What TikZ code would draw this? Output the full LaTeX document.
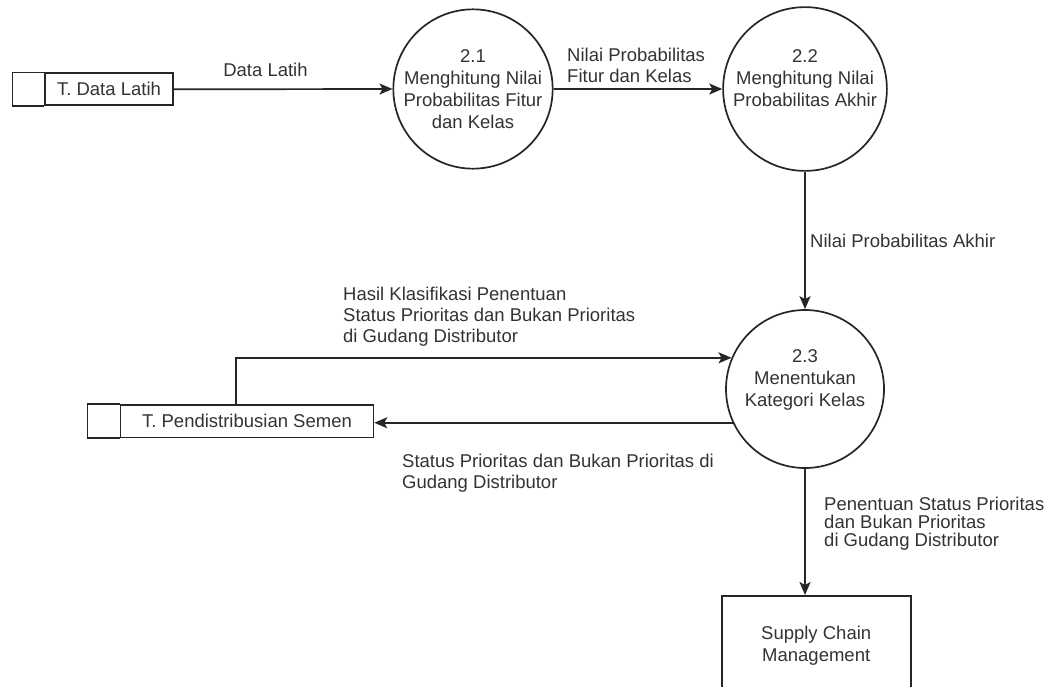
\documentclass[tikz,border=0pt]{standalone}
\usepackage{fontspec}
\setmainfont{Liberation Sans}
\usetikzlibrary{arrows.meta}
\begin{document}
\begin{tikzpicture}[x=1pt,y=-1pt,
  every node/.style={text=black!80, font=\fontsize{18.5}{21.8}\selectfont, inner sep=0pt},
  ln/.style={draw=black!85, line width=1.7pt},
  arr/.style={ln, -{Stealth[length=13pt,width=11pt,inset=3pt]}},
  proc/.style={circle, draw=black!85, line width=1.7pt, minimum size=158pt, align=center},
  store/.style={rectangle, draw=black!85, line width=1.7pt, minimum height=32pt},
  ext/.style={rectangle, draw=black!85, line width=1.7pt, align=center},
  lbl/.style={align=left, anchor=base west},
]
\useasboundingbox (0,0) rectangle (1064,686);
\clip (0,0) rectangle (1064,686);
\fill[white] (0,0) rectangle (1064,686);

% data stores
\node[store, minimum width=127.4pt] (dl) at (109,89.3) {T. Data Latih};
\draw[ln] (dl.north west) -- ++(-32,0) |- (dl.south west);
\node[store, minimum width=252.8pt, minimum height=32.3pt] (ps) at (247,421.2) {T. Pendistribusian Semen};
\draw[ln] (ps.north west) -- ++(-32.2,0) |- (ps.south west);

% processes
\node[proc] (c21) at (473,89) {2.1\\Menghitung Nilai\\Probabilitas Fitur\\dan Kelas};
\node[proc] (c22) at (805,89) {2.2\\Menghitung Nilai\\Probabilitas Akhir\\~};
\node[proc] (c23) at (805,389) {2.3\\Menentukan\\Kategori Kelas\\~};

% external entity
\node[ext, minimum width=189pt, minimum height=100pt, anchor=north] (scm) at (816.2,595) {Supply Chain\\Management};

% connectors
\coordinate (kx) at (236,0);
\draw[arr] (dl.east) -- (c21.west);
\draw[arr] (c21.east) -- (c22.west);
\draw[arr] (c22.south) -- (c23.north);
\draw[arr] (ps.north -| kx) |- (c23.157);
\draw[arr] (c23.205) -- (c23.205 -| ps.east);
\draw[arr] (c23.south) -- (c23.south |- scm.north);

% labels (base = baseline of the last line)
\node[anchor=base] (lDL) at (265.5,76.7) {Data Latih};
\node[lbl, font=\fontsize{18.5}{21}\selectfont] (lNP) at (567,82) {Nilai Probabilitas\\Fitur dan Kelas};
\node[lbl] (lNA) at (810,247) {Nilai Probabilitas Akhir};
\node[lbl, font=\fontsize{18.5}{21}\selectfont] (lHK) at (343,342) {Hasil Klasifikasi Penentuan\\Status Prioritas dan Bukan Prioritas\\di Gudang Distributor};
\node[lbl, font=\fontsize{18.5}{21}\selectfont] (lSP) at (402,488) {Status Prioritas dan Bukan Prioritas di\\Gudang Distributor};
\node[lbl, font=\fontsize{18.5}{18.4}\selectfont] (lPS) at (824,546.8) {Penentuan Status Prioritas\\dan Bukan Prioritas\\di Gudang Distributor};
\end{tikzpicture}
\end{document}
